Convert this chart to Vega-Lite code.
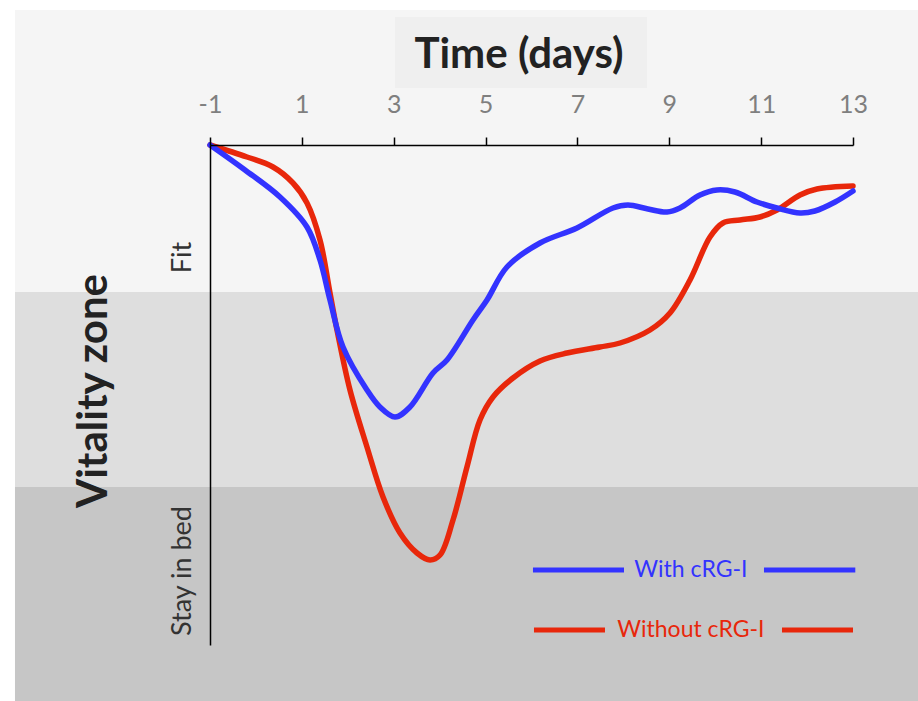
{
  "$schema": "https://vega.github.io/schema/vega-lite/v6.json",
  "width": 643,
  "height": 500,
  "autosize": {"type": "none"},
  "padding": {"left": 210, "top": 145, "right": 65, "bottom": 56},
  "background": "white",
  "config": {"view": {"stroke": null}, "font": "Lato"},
  "datasets": {
    "bands": [
      {"zone": "Fit", "x": -5.246, "xe": 14.5, "y": 12.7, "ye": 7.06},
      {"zone": "Middle", "x": -5.246, "xe": 14.5, "y": 7.06, "ye": 3.16},
      {"zone": "Stay in bed", "x": -5.246, "xe": 14.5, "y": 3.16, "ye": -1.2},
      {"zone": "Title box", "x": 3.028, "xe": 8.514, "y": 12.56, "ye": 11.14}
    ],
    "curves": [
      {"series": "Without cRG-I", "x": -1.0, "y": 10.0},
      {"series": "Without cRG-I", "x": -0.194, "y": 9.76},
      {"series": "Without cRG-I", "x": 0.372, "y": 9.56},
      {"series": "Without cRG-I", "x": 0.807, "y": 9.24},
      {"series": "Without cRG-I", "x": 1.112, "y": 8.84},
      {"series": "Without cRG-I", "x": 1.395, "y": 8.1},
      {"series": "Without cRG-I", "x": 1.613, "y": 7.04},
      {"series": "Without cRG-I", "x": 1.765, "y": 6.3},
      {"series": "Without cRG-I", "x": 2.048, "y": 5.1},
      {"series": "Without cRG-I", "x": 2.418, "y": 3.96},
      {"series": "Without cRG-I", "x": 2.767, "y": 2.96},
      {"series": "Without cRG-I", "x": 3.137, "y": 2.24},
      {"series": "Without cRG-I", "x": 3.507, "y": 1.84},
      {"series": "Without cRG-I", "x": 3.79, "y": 1.7},
      {"series": "Without cRG-I", "x": 4.008, "y": 1.8},
      {"series": "Without cRG-I", "x": 4.291, "y": 2.5},
      {"series": "Without cRG-I", "x": 4.595, "y": 3.56},
      {"series": "Without cRG-I", "x": 4.878, "y": 4.5},
      {"series": "Without cRG-I", "x": 5.162, "y": 4.96},
      {"series": "Without cRG-I", "x": 5.597, "y": 5.34},
      {"series": "Without cRG-I", "x": 6.185, "y": 5.68},
      {"series": "Without cRG-I", "x": 6.773, "y": 5.84},
      {"series": "Without cRG-I", "x": 7.491, "y": 5.96},
      {"series": "Without cRG-I", "x": 7.927, "y": 6.04},
      {"series": "Without cRG-I", "x": 8.58, "y": 6.3},
      {"series": "Without cRG-I", "x": 9.015, "y": 6.64},
      {"series": "Without cRG-I", "x": 9.451, "y": 7.3},
      {"series": "Without cRG-I", "x": 9.886, "y": 8.16},
      {"series": "Without cRG-I", "x": 10.169, "y": 8.44},
      {"series": "Without cRG-I", "x": 10.539, "y": 8.5},
      {"series": "Without cRG-I", "x": 10.975, "y": 8.56},
      {"series": "Without cRG-I", "x": 11.345, "y": 8.7},
      {"series": "Without cRG-I", "x": 11.846, "y": 9.0},
      {"series": "Without cRG-I", "x": 12.216, "y": 9.12},
      {"series": "Without cRG-I", "x": 13.0, "y": 9.18},
      {"series": "With cRG-I", "x": -1.0, "y": 10.0},
      {"series": "With cRG-I", "x": -0.238, "y": 9.5},
      {"series": "With cRG-I", "x": 0.524, "y": 8.96},
      {"series": "With cRG-I", "x": 1.112, "y": 8.36},
      {"series": "With cRG-I", "x": 1.395, "y": 7.7},
      {"series": "With cRG-I", "x": 1.613, "y": 6.9},
      {"series": "With cRG-I", "x": 1.896, "y": 5.96},
      {"series": "With cRG-I", "x": 2.418, "y": 5.1},
      {"series": "With cRG-I", "x": 2.7, "y": 4.76},
      {"series": "With cRG-I", "x": 3.028, "y": 4.56},
      {"series": "With cRG-I", "x": 3.354, "y": 4.76},
      {"series": "With cRG-I", "x": 3.855, "y": 5.44},
      {"series": "With cRG-I", "x": 4.16, "y": 5.7},
      {"series": "With cRG-I", "x": 4.726, "y": 6.5},
      {"series": "With cRG-I", "x": 5.031, "y": 6.9},
      {"series": "With cRG-I", "x": 5.466, "y": 7.56},
      {"series": "With cRG-I", "x": 6.185, "y": 8.04},
      {"series": "With cRG-I", "x": 6.99, "y": 8.34},
      {"series": "With cRG-I", "x": 7.774, "y": 8.74},
      {"series": "With cRG-I", "x": 8.101, "y": 8.8},
      {"series": "With cRG-I", "x": 8.536, "y": 8.72},
      {"series": "With cRG-I", "x": 8.95, "y": 8.66},
      {"series": "With cRG-I", "x": 9.233, "y": 8.74},
      {"series": "With cRG-I", "x": 9.668, "y": 9.0},
      {"series": "With cRG-I", "x": 10.039, "y": 9.1},
      {"series": "With cRG-I", "x": 10.43, "y": 9.06},
      {"series": "With cRG-I", "x": 10.909, "y": 8.86},
      {"series": "With cRG-I", "x": 11.345, "y": 8.74},
      {"series": "With cRG-I", "x": 11.846, "y": 8.64},
      {"series": "With cRG-I", "x": 12.17, "y": 8.68},
      {"series": "With cRG-I", "x": 12.61, "y": 8.86},
      {"series": "With cRG-I", "x": 13.0, "y": 9.08}
    ],
    "legendLines": [
      {"series": "With cRG-I", "x": 6.032, "xe": 8.014, "y": 1.5},
      {"series": "With cRG-I", "x": 11.062, "xe": 13.05, "y": 1.5},
      {"series": "Without cRG-I", "x": 6.054, "xe": 7.6, "y": 0.3},
      {"series": "Without cRG-I", "x": 11.454, "xe": 13.0, "y": 0.3}
    ],
    "legendLabels": [
      {"series": "With cRG-I", "x": 9.47, "y": 1.36},
      {"series": "Without cRG-I", "x": 9.47, "y": 0.16}
    ],
    "xTitle": [{"label": "Time (days)", "x": 5.728, "y": 11.54}],
    "yTitle": [{"label": "Vitality zone", "x": -3.243, "y": 5.08}]
  },
  "encoding": {
    "x": {
      "field": "x",
      "type": "quantitative",
      "scale": {"domain": [-1, 13], "nice": false, "zero": false},
      "axis": {
        "orient": "top",
        "values": [-1, 1, 3, 5, 7, 9, 11, 13],
        "labelExpr": "'' + datum.value",
        "title": null,
        "grid": false,
        "domainColor": "#000000",
        "domainWidth": 1.5,
        "tickColor": "#000000",
        "tickWidth": 1.5,
        "tickSize": 8,
        "labelFont": "Lato",
        "labelFontSize": 25,
        "labelColor": "#7f7f7f",
        "labelPadding": 20,
        "labelFlush": false,
        "labelOverlap": false,
        "zindex": 1
      }
    },
    "y": {
      "field": "y",
      "type": "quantitative",
      "scale": {"domain": [0, 10], "nice": false, "zero": false},
      "axis": {
        "orient": "left",
        "values": [7.76, 1.49],
        "labelExpr": "datum.value > 5 ? 'Fit' : 'Stay in bed'",
        "title": null,
        "grid": false,
        "ticks": false,
        "tickSize": 0,
        "domainColor": "#000000",
        "domainWidth": 1.5,
        "labelAngle": 270,
        "labelAlign": "center",
        "labelBaseline": "alphabetic",
        "labelFont": "Lato",
        "labelFontSize": 27,
        "labelColor": "#333333",
        "labelPadding": 20,
        "labelFlush": false,
        "labelOverlap": false,
        "zindex": 1
      }
    }
  },
  "layer": [
    {
      "data": {"name": "bands"},
      "mark": {"type": "rect"},
      "encoding": {
        "x2": {"field": "xe"},
        "y2": {"field": "ye"},
        "fill": {
          "field": "zone",
          "type": "nominal",
          "scale": {"domain": ["Fit", "Middle", "Stay in bed", "Title box"], "range": ["#f5f5f5", "#dedede", "#c6c6c6", "#efefef"]},
          "legend": null
        }
      }
    },
    {
      "data": {"name": "curves"},
      "mark": {"type": "line", "interpolate": "catmull-rom", "strokeWidth": 5.5, "strokeCap": "round", "strokeJoin": "round"},
      "encoding": {
        "color": {
          "field": "series",
          "type": "nominal",
          "scale": {"domain": ["With cRG-I", "Without cRG-I"], "range": ["#3333ff", "#e8270b"]},
          "legend": null
        },
        "order": {"field": "x", "type": "quantitative"}
      }
    },
    {
      "data": {"name": "legendLines"},
      "mark": {"type": "rule", "strokeWidth": 5},
      "encoding": {
        "x2": {"field": "xe"},
        "color": {"field": "series", "type": "nominal", "legend": null}
      }
    },
    {
      "data": {"name": "legendLabels"},
      "mark": {"type": "text", "font": "Lato", "fontSize": 23, "align": "center", "baseline": "alphabetic"},
      "encoding": {
        "text": {"field": "series"},
        "color": {"field": "series", "type": "nominal", "legend": null}
      }
    },
    {
      "data": {"name": "xTitle"},
      "mark": {"type": "text", "font": "Lato", "fontSize": 42, "fontWeight": "bold", "align": "center", "baseline": "alphabetic", "color": "#222222"},
      "encoding": {"text": {"field": "label"}}
    },
    {
      "data": {"name": "yTitle"},
      "mark": {"type": "text", "font": "Lato", "fontSize": 42, "fontWeight": "bold", "align": "center", "baseline": "alphabetic", "angle": 270, "color": "#222222"},
      "encoding": {"text": {"field": "label"}}
    }
  ]
}
